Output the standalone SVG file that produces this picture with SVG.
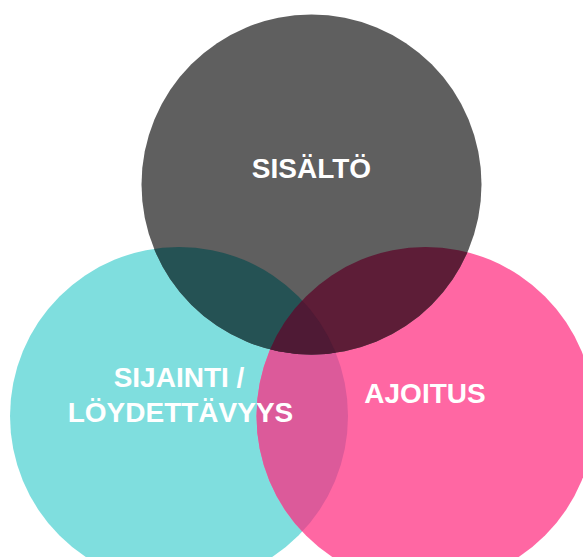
<svg xmlns="http://www.w3.org/2000/svg" width="583" height="557" viewBox="0 0 583 557">
  <style>
    .lbl { font-family: "Liberation Sans", Arial, sans-serif; font-weight: bold; font-size: 28px; fill: #ffffff; text-anchor: middle; }
  </style>
  <defs>
    <clipPath id="clipGray"><circle cx="311.5" cy="184.5" r="170"/></clipPath>
    <clipPath id="clipCyan"><circle cx="179" cy="416" r="169"/></clipPath>
    <clipPath id="clipPink"><circle cx="425.5" cy="416" r="169"/></clipPath>
  </defs>
  <rect width="583" height="557" fill="#ffffff"/>
  <g id="circle-sijainti">
    <circle cx="179" cy="416" r="169" fill="#7fdede"/>
  </g>
  <g id="circle-ajoitus">
    <circle cx="425.5" cy="416" r="169" fill="#ff67a3"/>
  </g>
  <g id="circle-sisalto">
    <circle cx="311.5" cy="184.5" r="170" fill="#5f5f5f"/>
  </g>
  <g id="overlaps">
    <g clip-path="url(#clipCyan)">
      <circle cx="425.5" cy="416" r="169" fill="#dc5a9a"/>
    </g>
    <g clip-path="url(#clipGray)">
      <circle cx="179" cy="416" r="169" fill="#255254"/>
      <circle cx="425.5" cy="416" r="169" fill="#5d1d37"/>
      <g clip-path="url(#clipCyan)">
        <circle cx="425.5" cy="416" r="169" fill="#4f1a35"/>
      </g>
    </g>
  </g>
  <g id="labels">
    <text class="lbl" x="311.5" y="178">SISÄLTÖ</text>
    <text class="lbl" x="179" y="387">SIJAINTI /</text>
    <text class="lbl" x="180.5" y="422">LÖYDETTÄVYYS</text>
    <text class="lbl" x="425" y="403">AJOITUS</text>
  </g>
</svg>
